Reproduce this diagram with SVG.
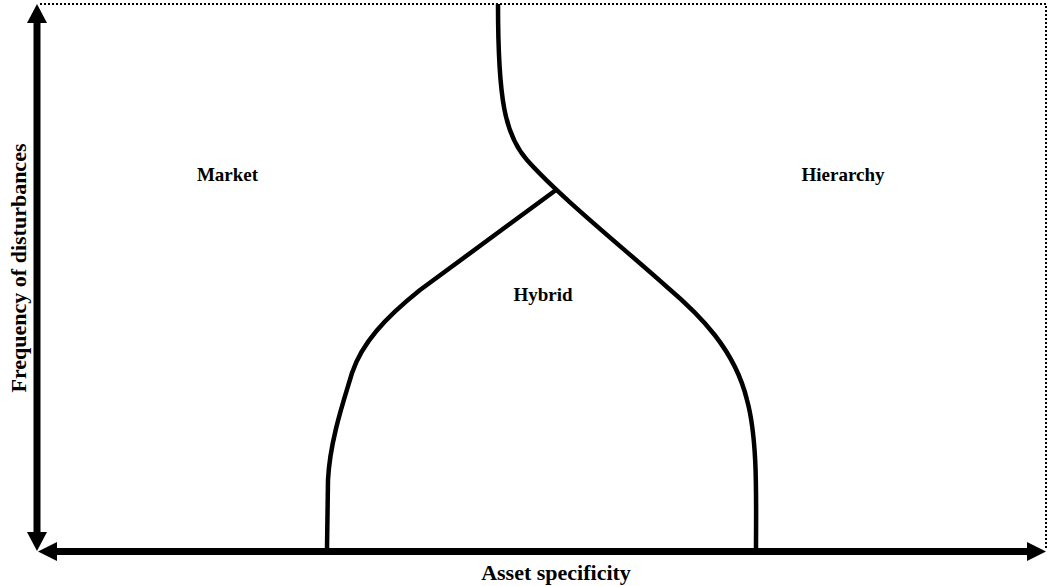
<svg xmlns="http://www.w3.org/2000/svg" width="1049" height="586" viewBox="0 0 1049 586">
<style>
.lbl{font-family:"Liberation Serif","Times New Roman",serif;font-weight:bold;font-size:19px;fill:#000}
.ax{font-family:"Liberation Serif","Times New Roman",serif;font-weight:bold;font-size:22px;fill:#000}
.curve{fill:none;stroke:#000;stroke-width:4.5;stroke-linejoin:round}
.axis{fill:none;stroke:#000;stroke-width:7}
</style>
<rect width="1049" height="586" fill="#fff"/>
<g id="frame">
<path d="M40,4 H1046 V548" fill="none" stroke="#000" stroke-width="2" stroke-dasharray="2,2"/>
</g>
<g id="axes">
<line class="axis" x1="37" y1="20" x2="37" y2="534"/>
<polygon points="37,4 27,23 47,23" fill="#000"/>
<polygon points="37,551 27,532 47,532" fill="#000"/>
<line class="axis" x1="54" y1="551.5" x2="1030" y2="551.5"/>
<polygon points="38,551.5 57,542 57,561" fill="#000"/>
<polygon points="1046,551.5 1027,542 1027,561" fill="#000"/>
</g>
<g id="connectors">
<path class="curve" d="M498,4 C498,100 505,135 527,160 C560,197 620,245 667,287 C700,315 735,350 747,400 C758,440 756,500 756,549"/>
<path class="curve" d="M556,190 L420,290 C385,318 362,343 352,373 C344,400 330,440 328,480 L327,549"/>
</g>
<g id="market"><text class="lbl" x="227.5" y="181" text-anchor="middle">Market</text></g>
<g id="hierarchy"><text class="lbl" x="843" y="181" text-anchor="middle">Hierarchy</text></g>
<g id="hybrid"><text class="lbl" x="543" y="301" text-anchor="middle">Hybrid</text></g>
<g id="x-label"><text class="ax" x="556" y="580" text-anchor="middle">Asset specificity</text></g>
<g id="y-label"><text class="ax" transform="translate(25.5,268) rotate(-90)" text-anchor="middle">Frequency of disturbances</text></g>
</svg>
